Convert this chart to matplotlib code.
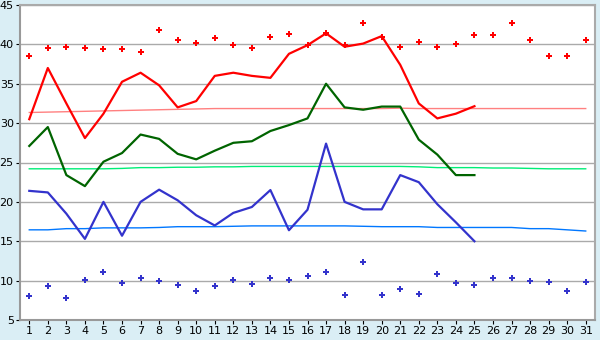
import matplotlib
matplotlib.use("Agg")
import matplotlib.pyplot as plt

days = list(range(1, 32))
days_obs = list(range(1, 26))

# observed daily max / mean / min (days 1-25)
obs_max = [30.5, 37.0, 32.5, 28.1, 31.2, 35.25, 36.4, 34.8, 32.0, 32.8,
           36.0, 36.4, 36.0, 35.75, 38.8, 39.9, 41.4, 39.7, 40.1, 41.05,
           37.4, 32.5, 30.6, 31.2, 32.15]
obs_mean = [27.1, 29.5, 23.4, 22.0, 25.1, 26.2, 28.55, 28.0, 26.1, 25.4,
            26.5, 27.5, 27.7, 29.0, 29.75, 30.6, 35.0, 32.0, 31.7, 32.1,
            32.1, 27.9, 26.0, 23.4, 23.4]
obs_min = [21.4, 21.2, 18.5, 15.3, 20.0, 15.7, 20.0, 21.55, 20.2, 18.3,
           17.0, 18.6, 19.35, 21.5, 16.4, 19.0, 27.4, 20.0, 19.05, 19.05,
           23.4, 22.5, 19.7, 17.4, 15.0]

# record highs / lows (days 1-31)
rec_high = [38.5, 39.5, 39.7, 39.6, 39.35, 39.35, 39.0, 41.8, 40.5, 40.2,
            40.8, 39.9, 39.5, 40.9, 41.3, 39.9, 41.4, 39.9, 42.7, 41.0,
            39.7, 40.25, 39.7, 40.0, 41.15, 41.15, 42.7, 40.6, 38.5, 38.5, 40.6]
rec_low = [8.1, 9.35, 7.8, 10.1, 11.1, 9.7, 10.35, 10.0, 9.5, 8.7,
           9.35, 10.1, 9.6, 10.35, 10.1, 10.6, 11.1, 8.2, 12.4, 8.2,
           8.95, 8.3, 10.8, 9.7, 9.5, 10.35, 10.35, 10.0, 9.85, 8.7, 9.85]

# climate normals (days 1-31)
norm_max = [31.35, 31.4, 31.45, 31.5, 31.55, 31.6, 31.65, 31.7, 31.75, 31.8,
            31.85, 31.85, 31.85, 31.85, 31.85, 31.85, 31.85, 31.85, 31.85, 31.85,
            31.9, 31.85, 31.85, 31.85, 31.85, 31.85, 31.85, 31.85, 31.85, 31.85, 31.85]
norm_mean = [24.2, 24.2, 24.2, 24.2, 24.2, 24.25, 24.35, 24.35, 24.4, 24.4,
             24.45, 24.45, 24.5, 24.5, 24.5, 24.5, 24.5, 24.5, 24.5, 24.5,
             24.5, 24.45, 24.35, 24.35, 24.35, 24.3, 24.3, 24.25, 24.2, 24.2, 24.2]
norm_min = [16.45, 16.45, 16.6, 16.6, 16.7, 16.7, 16.7, 16.75, 16.85, 16.85,
            16.85, 16.9, 16.95, 16.95, 16.95, 16.95, 16.95, 16.95, 16.9, 16.85,
            16.85, 16.85, 16.75, 16.75, 16.75, 16.75, 16.75, 16.6, 16.6, 16.45, 16.3]

fig = plt.figure(figsize=(6, 3.4), dpi=100, facecolor="#daeef5")
ax = fig.add_axes([20 / 600, 20 / 340, 575 / 600, 315 / 340])
ax.set_facecolor("white")

ax.plot(days, norm_max, color="#ff8080", lw=1)
ax.plot(days, norm_mean, color="#00ee77", lw=1)
ax.plot(days, norm_min, color="#0077ff", lw=1)

ax.plot(days_obs, obs_max, color="#ff0000", lw=1.6)
ax.plot(days_obs, obs_mean, color="#006400", lw=1.6)
ax.plot(days_obs, obs_min, color="#3333cc", lw=1.6)

ax.plot(days, rec_high, "P", color="#ff0000", ms=4, mew=0)
ax.plot(days, rec_low, "P", color="#3333cc", ms=4, mew=0)

ax.set_xlim(0.5, 31.5)
ax.set_ylim(5, 45)
ax.set_xticks(days)
ax.set_yticks(range(5, 46, 5))
ax.grid(axis="y", color="#aaaaaa", lw=1)
ax.set_axisbelow(True)
ax.tick_params(labelsize=8, length=3, colors="black", pad=1.5)

for side in ["top", "right"]:
    ax.spines[side].set_color("#aaaaaa")
    ax.spines[side].set_linewidth(1.5)
for side in ["left", "bottom"]:
    ax.spines[side].set_color("#999999")
    ax.spines[side].set_linewidth(1.5)

fig.savefig("out.png", dpi=100, facecolor=fig.get_facecolor())
